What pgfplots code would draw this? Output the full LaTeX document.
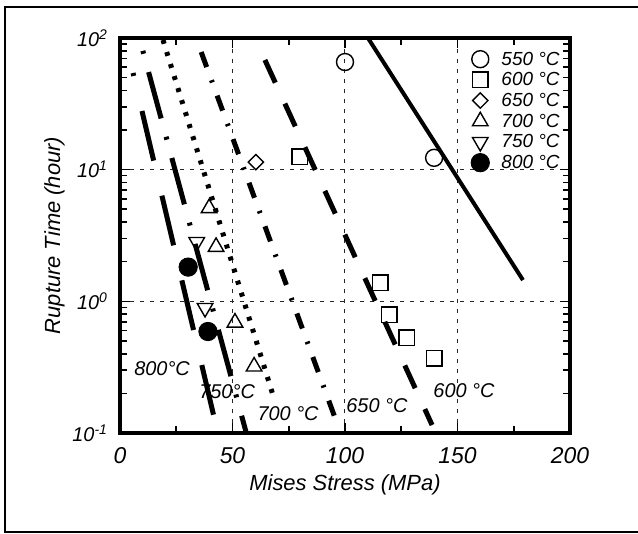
\documentclass[border=0pt]{standalone}
\usepackage{fontspec}
\setmainfont{Liberation Sans}
\usepackage{pgfplots}
\pgfplotsset{compat=1.18}
\begin{document}
\begin{tikzpicture}
\path[use as bounding box] (-60bp,-50.5bp) rectangle (259bp,216.5bp);
\begin{axis}[
  scale only axis, width=225bp, height=197.5bp,
  at={(0bp,0bp)}, anchor=south west,
  xmin=0, xmax=200, ymin=0.1, ymax=100, ymode=log,
  xtick={0,50,100,150,200}, xticklabels={0,50,100,150,200},
  minor xtick={25,75,125,175},
  ytick={0.1,1,10,100},
  yticklabels={10\textsuperscript{-1},10\textsuperscript{0},10\textsuperscript{1},10\textsuperscript{2}},
  xtick pos=both, ytick pos=both, xticklabel pos=lower, yticklabel pos=left,
  tick align=inside,
  major tick length=5bp, minor tick length=3.5bp,
  every tick/.style={black, line width=0.8bp},
  axis line style={line width=1.8bp},
  grid=major,
  major grid style={black!85, line width=0.5bp, dash pattern=on 2bp off 3bp},
  xticklabel style={font=\fontsize{11.5}{13}\selectfont\itshape, yshift=-3.5bp},
  yticklabel style={font=\fontsize{10}{12}\selectfont\itshape, xshift=-2.5bp},
  xlabel={Mises Stress (MPa)}, ylabel={Rupture Time (hour)},
  xlabel style={font=\fontsize{11}{12}\selectfont\itshape, yshift=1bp},
  ylabel style={font=\fontsize{11}{12}\selectfont\itshape, yshift=-3bp},
  legend style={at={(0.766,0.983)}, anchor=north west, draw=none, fill=none,
    font=\fontsize{9.5}{10}\selectfont\itshape,
    nodes={inner sep=0.5bp, text height=7.5bp, text depth=1.6bp}, row sep=0.25bp,
    /tikz/every odd column/.append style={column sep=5.5bp}},
  legend cell align=left,
  clip=true,
]
% data markers
\addplot[only marks, mark=o, mark size=4.25bp, mark options={line width=0.7bp, fill=white}]
  coordinates {(100,65.7) (139.6,12.3)};
\addlegendentry{550 °C}
\addplot[only marks, mark=square, mark size=3.9bp, mark options={line width=0.7bp, fill=white}]
  coordinates {(80,12.5) (115.6,1.38) (119.6,0.79) (127.4,0.53) (139.6,0.37)};
\addlegendentry{600 °C}
\addplot[only marks, mark=square, mark size=2.7bp, mark options={line width=0.7bp, fill=white, rotate=45}]
  coordinates {(60.4,11.4)};
\addlegendentry{650 °C}
\addplot[only marks, mark=triangle, mark size=4.5bp, mark options={line width=0.7bp, fill=white}]
  coordinates {(39.6,5.1) (42.7,2.59) (51.1,0.69) (59.6,0.32)};
\addlegendentry{700 °C}
\addplot[only marks, mark=triangle, mark size=4.5bp, mark options={line width=0.7bp, fill=white, rotate=180}]
  coordinates {(34.1,2.82) (37.8,0.89)};
\addlegendentry{750 °C}
\addplot[only marks, mark=*, mark size=4.6bp, mark options={fill=black}]
  coordinates {(30.3,1.82) (39.1,0.59)};
\addlegendentry{800 °C}
% fitted lines
\addplot[forget plot, black, line width=2bp] coordinates {(110.2,100) (179.1,1.45)};
\addplot[forget plot, black, line width=2.5bp, dash pattern=on 12.5bp off 11.5bp] coordinates {(64.4,68.1) (138.7,0.115)};
\addplot[forget plot, black, line width=2.5bp, dash pattern=on 8bp off 7bp on 1.2bp off 7bp, dash phase=20bp] coordinates {(35.1,86.9) (95.6,0.130)};
\addplot[forget plot, black, line width=2.5bp, dash pattern=on 2bp off 4.3bp] coordinates {(19.1,96.6) (68.0,0.194)};
\addplot[forget plot, black, line width=2.5bp, dash pattern=on 24bp off 9.5bp on 1.5bp off 9.5bp, dash phase=32bp] coordinates {(9.8,84.0) (56.0,0.102)};
\addplot[forget plot, black, line width=2.5bp, dash pattern=on 25.5bp off 18bp, dash phase=24bp] coordinates {(5.8,54.2) (41.8,0.132)};
% curve labels
\begin{scope}[every node/.style={font=\fontsize{10}{12}\selectfont\itshape, inner sep=0pt}]
\node at (axis cs:18.7,0.31) {800°C};
\node at (axis cs:47.6,0.205) {750°C};
\node at (axis cs:74.7,0.140) {700 °C};
\node at (axis cs:114.2,0.161) {650 °C};
\node at (axis cs:152.9,0.209) {600 °C};
\end{scope}
\end{axis}
\draw[line width=1bp] (259bp,213bp) -- (-57.5bp,213bp) -- (-57.5bp,-49.5bp) -- (259bp,-49.5bp);
\end{tikzpicture}
\end{document}
